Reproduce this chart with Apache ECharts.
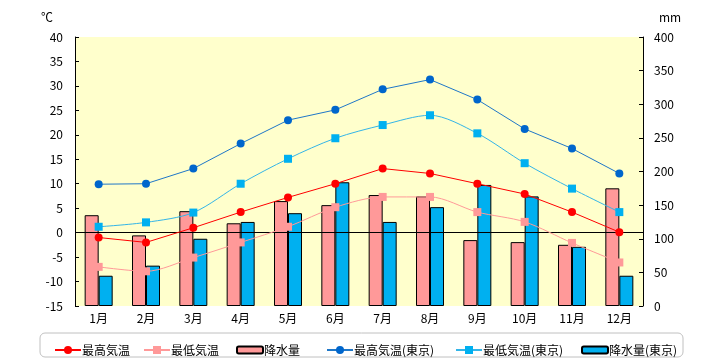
<!DOCTYPE html>
<html><head><meta charset="utf-8">
<script src="https://cdn.jsdelivr.net/npm/echarts@6/dist/echarts.min.js"></script>
<style>html,body{margin:0;padding:0;background:#fff}#c{width:720px;height:360px}</style>
</head><body><div id="c"></div>
<script>
const categories = ['1月','2月','3月','4月','5月','6月','7月','8月','9月','10月','11月','12月'];
const maxTemp = [-1.0, -2.0, 1.0, 4.2, 7.2, 10.0, 13.1, 12.1, 10.0, 7.9, 4.2, 0.1];
const minTemp = [-7.0, -7.9, -5.1, -2.0, 1.2, 5.2, 7.3, 7.3, 4.2, 2.2, -2.1, -6.1];
const precip = [135, 105, 141, 123, 156, 150, 165, 163, 98, 95, 91, 175];
const tokyoMax = [9.9, 10.0, 13.1, 18.2, 23.0, 25.1, 29.3, 31.3, 27.2, 21.2, 17.2, 12.1];
const tokyoMin = [1.2, 2.1, 4.1, 10.0, 15.1, 19.3, 22.0, 24.0, 20.3, 14.2, 9.0, 4.2];
const tokyoPrecip = [45, 60, 100, 125, 138, 184, 125, 147, 180, 163, 88, 45];
const tempTicks = [-15, 40, 5];
const rainTicks = [0, 400, 50];

const FONT = '"Noto Sans CJK JP", "DejaVu Sans", sans-serif';
const names = ['最高気温','最低気温','降水量','最高気温(東京)','最低気温(東京)','降水量(東京)'];
const legendLeft = [49, 138, 231, 321, 450, 576];

const chart = echarts.init(document.getElementById('c'));
chart.setOption({
  animation: false,
  textStyle: {fontFamily: FONT},
  grid: {left: 75, right: 77, top: 37, bottom: 54, show: true, backgroundColor: '#FFFFCC', borderWidth: 0},
  graphic: [{type: 'rect', shape: {x: 40, y: 333, width: 643, height: 24, r: 5}, style: {fill: 'none', stroke: '#C0C0C0', lineWidth: 1}, z: -1}],
  legend: names.map((n, i) => ({
    data: [n], left: legendLeft[i], top: 339, itemWidth: 26, itemHeight: i === 2 || i === 5 ? 7 : 10, itemGap: 0,
    textStyle: {fontSize: 12, color: '#000', fontFamily: FONT, padding: [0, 0, 0, -4]}
  })),
  xAxis: {
    type: 'category', data: categories,
    axisLine: {show: false}, axisTick: {show: false},
    axisLabel: {color: '#000', fontSize: 12, margin: 6}
  },
  yAxis: [{
    type: 'value', min: tempTicks[0], max: tempTicks[1], interval: tempTicks[2],
    name: '℃', nameLocation: 'end', nameGap: 14,
    nameTextStyle: {color: '#000', fontSize: 12, align: 'right', padding: [0, 22, 0, 0]},
    axisLine: {show: true, lineStyle: {color: '#000', width: 1}},
    axisTick: {show: true, inside: true, length: 4, lineStyle: {color: '#000'}},
    axisLabel: {color: '#000', fontSize: 12, margin: 12},
    splitLine: {show: false}
  }, {
    type: 'value', min: rainTicks[0], max: rainTicks[1], interval: rainTicks[2],
    name: 'mm', nameLocation: 'end', nameGap: 14,
    nameTextStyle: {color: '#000', fontSize: 12, align: 'left', padding: [0, 0, 0, 16]},
    axisLine: {show: true, lineStyle: {color: '#000', width: 1}},
    axisTick: {show: true, inside: true, length: 4, lineStyle: {color: '#000'}},
    axisLabel: {color: '#000', fontSize: 12, margin: 11},
    splitLine: {show: false}
  }],
  series: [
    {name: names[0], type: 'line', data: maxTemp, yAxisIndex: 0, z: 5,
     symbol: 'circle', symbolSize: 8, itemStyle: {color: '#FF0000'}, lineStyle: {color: '#FF0000', width: 1},
     markLine: {silent: true, symbol: 'none', label: {show: false}, lineStyle: {color: '#000', type: 'solid', width: 1}, data: [{yAxis: 0}], z: 3}},
    {name: names[1], type: 'line', data: minTemp, yAxisIndex: 0, z: 5, smooth: 0.3,
     symbol: 'rect', symbolSize: 8, itemStyle: {color: '#FF9999'}, lineStyle: {color: '#FF9999', width: 1}},
    {name: names[2], type: 'bar', data: precip, yAxisIndex: 1, barWidth: 14, barGap: '0%', z: 2,
     itemStyle: {color: '#FF9999', borderColor: '#000', borderWidth: 1}},
    {name: names[3], type: 'line', data: tokyoMax, yAxisIndex: 0, z: 5,
     symbol: 'circle', symbolSize: 8, itemStyle: {color: '#0066CC'}, lineStyle: {color: '#1F77C8', width: 1}},
    {name: names[4], type: 'line', data: tokyoMin, yAxisIndex: 0, z: 5, smooth: 0.3,
     symbol: 'rect', symbolSize: 8, itemStyle: {color: '#00B0F0'}, lineStyle: {color: '#33B5E8', width: 1}},
    {name: names[5], type: 'bar', data: tokyoPrecip, yAxisIndex: 1, barWidth: 14, barGap: '0%', z: 2,
     itemStyle: {color: '#00B0F0', borderColor: '#000', borderWidth: 1}}
  ]
});
</script></body></html>
